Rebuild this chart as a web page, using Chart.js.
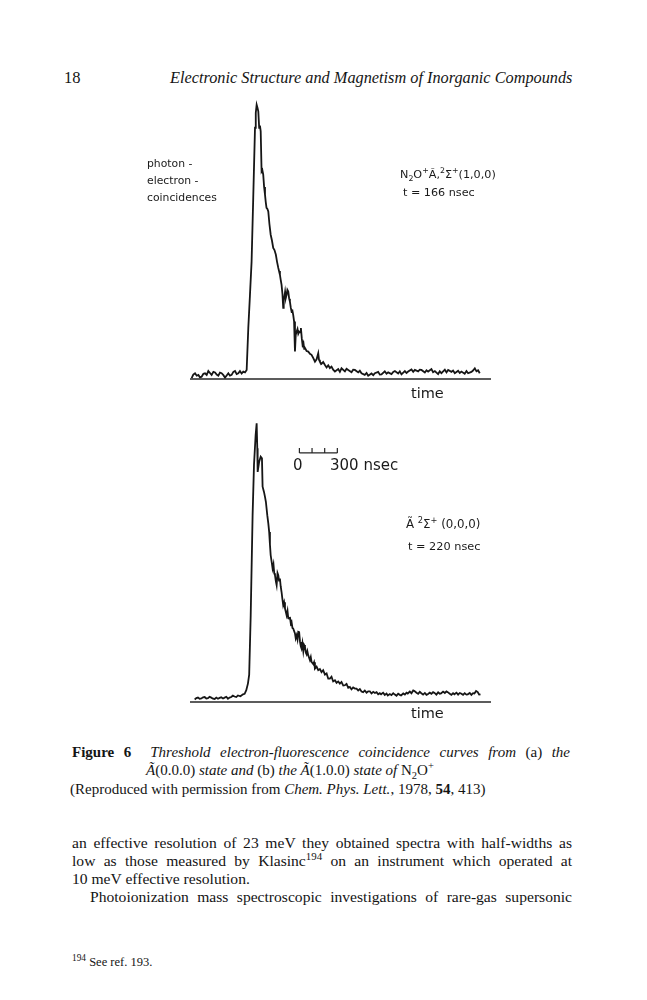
<!DOCTYPE html>
<html>
<head>
<meta charset="utf-8">
<script src="https://cdn.jsdelivr.net/npm/chart.js@4.4.1/dist/chart.umd.min.js"></script>
<style>
  html, body { margin: 0; padding: 0; background: #fff; }
  #page { position: relative; width: 647px; height: 1000px; overflow: hidden; color: #141414; }
  .serif { font-family: "Liberation Serif", "DejaVu Serif", serif; }
  .lab { font-family: "DejaVu Sans", sans-serif; position: absolute; white-space: nowrap; color: #1a1a1a; }
  .abs { position: absolute; white-space: nowrap; }
  .just { text-align: justify; text-align-last: justify; white-space: normal; }
  canvas { position: absolute; }
  sup { font-size: 70%; line-height: 0; }
  sub { font-size: 70%; line-height: 0; }
</style>
</head>
<body>
<div id="page">
  <div class="abs serif" style="left:64px; top:68px; font-size:16.5px;">18</div>
  <div class="abs serif" style="left:170px; top:68px; font-size:16.3px; font-style:italic;">Electronic Structure and Magnetism of Inorganic Compounds</div>

  <canvas id="topChart" width="330" height="310" style="left:180px; top:80px;"></canvas>
  <canvas id="bottomChart" width="330" height="310" style="left:180px; top:403px;"></canvas>

  <!-- labels of the upper trace -->
  <div class="lab" style="left:147px; top:155px; font-size:10.8px; line-height:17px;">photon -<br>electron -<br>coincidences</div>
  <div class="lab" style="left:400px; top:168px; font-size:11.2px;">N<sub>2</sub>O<sup>+</sup>Ã,<sup>2</sup>Σ<sup>+</sup>(1,0,0)</div>
  <div class="lab" style="left:403px; top:186px; font-size:11.2px;">t = 166 nsec</div>
  <div class="lab" style="left:411px; top:385px; font-size:14.5px;">time</div>

  <!-- labels of the lower trace -->
  <div class="lab" style="left:293px; top:456px; font-size:15px;">0</div>
  <div class="lab" style="left:330px; top:456px; font-size:15px;">300 nsec</div>
  <div class="lab" style="left:406px; top:517px; font-size:11.8px;">Ã <sup>2</sup>Σ<sup>+</sup> (0,0,0)</div>
  <div class="lab" style="left:408px; top:540px; font-size:11.3px;">t = 220 nsec</div>
  <div class="lab" style="left:411px; top:705px; font-size:14.5px;">time</div>

  <div class="abs serif just" style="left:72px; top:743px; width:498px; font-size:15px; line-height:18px;"><b>Figure 6</b>&nbsp; <i>Threshold electron-fluorescence coincidence curves from</i> (a) <i>the</i></div>
  <div class="abs serif" style="left:146px; top:761px; font-size:15px; line-height:18px;"><i>Ã</i>(0.0.0) <i>state and</i> (b) <i>the Ã</i>(1.0.0) <i>state of</i> N<sub>2</sub>O<sup>+</sup></div>
  <div class="abs serif" style="left:70px; top:780px; font-size:15px; line-height:18px;">(Reproduced with permission from <i>Chem. Phys. Lett.</i>, 1978, <b>54</b>, 413)</div>

  <div class="abs serif just" style="left:72px; top:834px; width:500px; font-size:15.6px; line-height:18px;">an effective resolution of 23 meV they obtained spectra with half-widths as</div>
  <div class="abs serif just" style="left:72px; top:852px; width:500px; font-size:15.6px; line-height:18px;">low as those measured by Klasinc<sup>194</sup> on an instrument which operated at</div>
  <div class="abs serif" style="left:72px; top:870px; font-size:15.6px; line-height:18px;">10 meV effective resolution.</div>
  <div class="abs serif just" style="left:90px; top:888px; width:482px; font-size:15.6px; line-height:18px;">Photoionization mass spectroscopic investigations of rare-gas supersonic</div>

  <div class="abs serif" style="left:72px; top:955px; font-size:12.5px;"><sup style="font-size:75%">194</sup> See ref. 193.</div>
</div>

<script>
'use strict'
// time axis in nsec, counts in arbitrary units
var timeMax = 2380;
var countsMax = 105;

// (b) upper trace, A(1,0,0), t = 166 nsec
var topTime = [13, 26, 40, 53, 66, 79, 92, 106, 119, 132, 145, 158, 171, 185, 198, 211, 224, 237, 250, 264,
  277, 290, 303, 316, 329, 343, 356, 369, 382, 395, 408, 421, 435, 448,
  461, 474, 487, 500, 514, 520, 527, 533, 540, 547, 553, 559, 566, 572, 579, 586, 593, 599, 605, 612, 619,
  628, 638, 648, 658, 668, 679, 688, 698, 704, 711, 717, 724, 731, 737, 741, 745, 752, 758, 764, 770, 777,
  784, 790, 797, 803, 810, 816, 823, 830, 836, 843, 850, 856, 863, 870, 877, 884, 890, 897, 903, 909, 922,
  935, 948, 961, 975, 988, 1001, 1014, 1020, 1027, 1040, 1053, 1067, 1080, 1093, 1106,
  1119, 1132, 1146, 1172, 1185, 1198, 1225, 1238, 1251, 1277, 1290, 1304, 1330, 1343, 1356, 1382, 1396, 1409,
  1435, 1449, 1462, 1488, 1501, 1514, 1540, 1554, 1567, 1593, 1607, 1620, 1646, 1659, 1672, 1699, 1712, 1725,
  1751, 1765, 1778, 1804, 1817, 1830, 1857, 1870, 1883, 1909, 1922, 1936, 1962, 1975, 1988, 2015, 2028, 2041,
  2067, 2080, 2094, 2120, 2133, 2146, 2172, 2186, 2199, 2225, 2238, 2252, 2265, 2278, 2291];
var topCounts = [0.3, 1.6, 2.1, 1.2, 1.5, 0.6, 0.8, 1.9, 2.1, 1.5, 2.9, 2.2, 1.5, 2.6, 2.4, 1.6, 1.2, 2.3, 2.1, 1.4,
  0.5, 1.3, 2.1, 1.2, 1.5, 2.6, 2.9, 1.8, 2.1, 2.9, 2.0, 2.7, 2.4, 3.3,
  18.6, 30.5, 42.8, 66.0, 91.6, 97.0, 100, 99.0, 97.6, 91.6, 92.4, 90.3, 75.7, 76.2, 74.5, 70.0, 67.2, 64.5, 62.4, 62.0, 61.1,
  56.5, 52.6, 50.5, 47.8, 47.0, 45.3, 42.8, 40.5, 39.4, 38.0, 36.2, 34.3, 31.0, 25.9, 28.5, 29.6, 31.8, 29.6, 30.7, 32.5, 31.9,
  29.3, 28.2, 26.0, 24.6, 24.9, 23.4, 21.0, 10.0, 16.0, 17.3, 18.2, 16.5, 17.3, 17.0, 18.6, 14.8, 12.4, 13.2, 11.0, 11.3, 10.2,
  10.0, 9.2, 8.8, 7.6, 6.3, 7.2, 9.4, 7.0, 6.3, 5.5, 6.2, 5.1, 4.2, 5.0, 4.0,
  4.5, 3.4, 2.7, 3.6, 2.6, 3.9, 2.8, 3.7, 3.3, 2.5, 3.4, 3.3, 2.4, 3.0, 2.1, 1.5, 2.2, 1.2,
  2.0, 1.4, 2.1, 2.6, 1.6, 1.7, 2.8, 1.9, 2.4, 1.8, 2.6, 2.9, 2.0, 2.8, 1.7, 2.9, 2.2, 2.7,
  3.5, 2.6, 3.3, 2.8, 3.4, 3.3, 2.4, 3.2, 2.7, 3.6, 2.5, 2.9, 1.8, 2.8, 2.1, 3.4, 2.4, 3.3,
  2.6, 3.1, 2.1, 3.0, 2.2, 2.7, 1.9, 2.9, 2.1, 2.6, 3.1, 3.9, 2.8, 3.2, 2.1];

// (a) lower trace, A(0,0,0), t = 220 nsec
var bottomTime = [37, 50, 63, 76, 90, 103, 116, 129, 142, 155, 168, 182, 195, 208, 221, 234, 247, 261, 274, 287,
  300, 313, 326, 339, 352, 366, 379, 399, 419, 432, 445, 458, 468,
  480, 495, 506, 519, 527, 532, 535, 547, 559, 569, 574, 585, 593, 600, 611, 619, 626, 632, 638, 646, 653, 660,
  666, 672, 679, 685, 692, 698, 704, 711, 717, 724, 730, 737, 744, 751, 757, 764, 771, 777, 784, 790, 797, 803,
  810, 816, 830, 836, 843, 850, 856, 863, 870, 876, 882, 889, 896, 902, 909, 916, 922, 928, 935, 948, 955, 961,
  975, 981, 988, 1001, 1014, 1027, 1040, 1053, 1067, 1080, 1093, 1106, 1119, 1132, 1146, 1159, 1172, 1185, 1198,
  1212, 1225, 1238, 1251, 1264, 1277, 1290, 1304, 1317, 1330, 1343, 1356, 1369, 1382, 1396, 1409, 1422, 1435,
  1449, 1462, 1475, 1488, 1501, 1511, 1527, 1540, 1554, 1564, 1580, 1593, 1607, 1617, 1633, 1646, 1659, 1669,
  1686, 1699, 1712, 1722, 1738, 1751, 1765, 1775, 1791, 1804, 1817, 1827, 1843, 1857, 1870, 1880, 1896, 1909,
  1922, 1934, 1948, 1962, 1975, 1985, 2001, 2015, 2028, 2038, 2054, 2067, 2080, 2091, 2107, 2120, 2133, 2143,
  2159, 2172, 2186, 2196, 2212, 2225, 2238, 2249, 2262, 2275, 2286, 2297];
var bottomCounts = [0.9, 1.4, 1.6, 1.2, 1.3, 1.7, 1.8, 1.3, 1.4, 1.9, 1.6, 1.2, 1.1, 1.6, 1.2, 1.5, 1.7, 1.3, 1.6, 1.9,
  1.2, 1.6, 1.8, 2.3, 2.0, 1.8, 2.4, 2.1, 2.8, 3.0, 4.3, 6.7, 10.0,
  31.6, 68.1, 86.4, 97.3, 101.6, 92.5, 83.9, 87.6, 89.4, 88.8, 78.5, 76.6, 74.8, 73.0, 68.1, 65.2, 62.0, 57.5, 53.5, 51.0, 48.7, 50.2,
  46.9, 46.2, 44.0, 42.6, 47.0, 46.2, 44.3, 45.0, 42.2, 40.1, 37.8, 35.3, 36.4, 34.1, 33.0, 31.6, 33.2, 30.5, 30.4, 31.0, 28.6, 29.2,
  27.0, 26.8, 25.0, 23.2, 24.3, 22.8, 25.6, 25.5, 21.9, 20.3, 19.5, 21.5, 18.6, 20.8, 20.1, 18.0, 17.4, 18.5, 17.0, 15.3, 16.4, 14.6,
  13.8, 14.5, 12.2, 12.9, 11.6, 12.0, 10.9, 11.6, 10.0, 10.4, 8.5, 8.5, 9.2, 7.5, 7.9, 7.0, 7.5, 6.7, 7.3,
  6.0, 6.1, 6.6, 5.2, 5.5, 4.6, 5.3, 4.9, 4.9, 4.2, 4.7, 3.8, 3.6, 4.2, 3.4, 3.9, 3.9, 3.1,
  3.7, 3.3, 3.6, 2.8, 3.2, 2.8, 3.4, 2.6, 3.1, 2.4, 2.9, 2.5, 3.2, 2.8, 2.3, 3.0, 2.6, 2.4,
  3.1, 2.7, 3.4, 3.1, 3.8, 3.2, 4.2, 4.0, 3.4, 3.0, 3.7, 3.3, 2.7, 3.3, 2.6, 2.8, 3.4, 3.0,
  3.6, 3.3, 2.7, 3.5, 3.0, 3.1, 3.8, 3.3, 3.9, 3.6, 3.0, 2.6, 3.2, 2.8, 3.4, 2.7, 3.3, 3.1,
  2.6, 3.2, 2.7, 2.8, 3.3, 2.6, 3.2, 3.1, 4.0, 3.6, 2.7, 2.8];

// time scale bar drawn in the lower panel: 0 .. 300 nsec
var barStart = 865;
var barLength = 300;
var barStep = 100;
var barLevel = 90.8;

function toPoints(xs, ys) {
    var pts = [];
    for (var i = 0; i < xs.length; i++) {
        pts.push({ x: xs[i], y: ys[i] });
    }
    return pts;
}

// baseline of each panel, drawn along the x scale at zero counts
var baselinePlugin = {
    id: 'baseline',
    afterDatasetsDraw: function (chart) {
        var x = chart.scales.x;
        var y = chart.scales.y;
        var ctx = chart.ctx;
        var yy = y.getPixelForValue(0);
        ctx.save();
        ctx.strokeStyle = '#262626';
        ctx.lineWidth = 1.5;
        ctx.beginPath();
        ctx.moveTo(x.getPixelForValue(0), yy);
        ctx.lineTo(x.getPixelForValue(timeMax), yy);
        ctx.stroke();
        ctx.restore();
    }
};

var scaleBarPlugin = {
    id: 'scaleBar',
    afterDatasetsDraw: function (chart, args, opts) {
        if (!opts.show) return;
        var x = chart.scales.x;
        var y = chart.scales.y;
        var ctx = chart.ctx;
        var yy = y.getPixelForValue(barLevel);
        ctx.save();
        ctx.strokeStyle = '#262626';
        ctx.lineWidth = 1.2;
        ctx.beginPath();
        ctx.moveTo(x.getPixelForValue(barStart), yy);
        ctx.lineTo(x.getPixelForValue(barStart + barLength), yy);
        for (var t = 0; t <= barLength; t += barStep) {
            var px = x.getPixelForValue(barStart + t);
            ctx.moveTo(px, yy);
            ctx.lineTo(px, yy - 5);
        }
        ctx.stroke();
        ctx.restore();
    }
};

function makeChart(id, xs, ys, pad, showBar) {
    var ctx = document.getElementById(id).getContext('2d');
    return new Chart(ctx, {
        type: 'line',
        data: {
            datasets: [{
                data: toPoints(xs, ys),
                borderColor: '#161616',
                borderWidth: 1.8,
                pointRadius: 0,
                tension: 0,
                fill: false
            }]
        },
        options: {
            responsive: false,
            animation: false,
            events: [],
            layout: { padding: pad },
            plugins: {
                legend: { display: false },
                tooltip: { enabled: false },
                scaleBar: { show: showBar }
            },
            scales: {
                x: { type: 'linear', min: 0, max: timeMax, display: false },
                y: { min: 0, max: countsMax, display: false }
            }
        },
        plugins: [baselinePlugin, scaleBarPlugin]
    });
}

makeChart('topChart', topTime, topCounts, { left: 10, right: 19, top: 11, bottom: 11 }, false);
makeChart('bottomChart', bottomTime, bottomCounts, { left: 10, right: 19, top: 11, bottom: 11 }, true);
</script>
</body>
</html>
